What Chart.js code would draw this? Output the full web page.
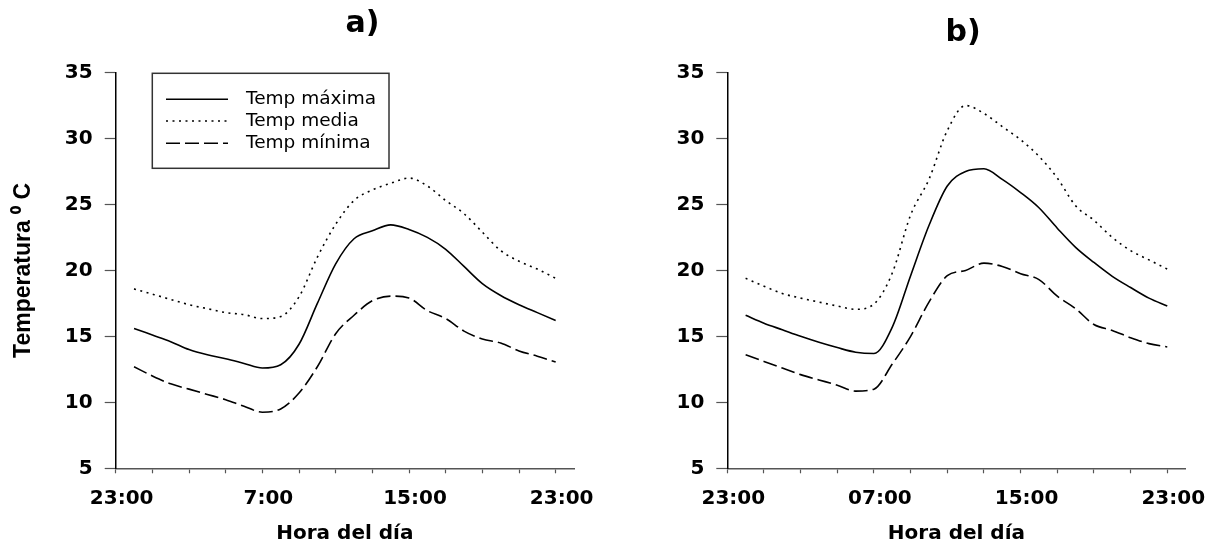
<!DOCTYPE html>
<html><head><meta charset="utf-8">
<script src="https://cdn.jsdelivr.net/npm/chart.js@4.4.1/dist/chart.umd.min.js"></script>
<style>
html,body{margin:0;padding:0;background:#fff;overflow:hidden;}
#wrap{position:relative;width:1217px;height:553px;background:#fff;}
canvas{position:absolute;top:0;}
#ca{left:0;} #cb{left:608px;}
</style></head><body>
<div id="wrap"><canvas id="ca" width="608" height="553"></canvas><canvas id="cb" width="609" height="553"></canvas></div>
<script>
// ---- data ----
const hours = [1,2,3,4,5,6,7,8,9,10,11,12,13,14,15,16,17,18,19,20,21,22,23,24];
const xTickValues = [0,2,4,6,8,10,12,14,16,18,20,22,24];
const majorTickValues = [0,8,16,24];
const tickLabelsA = ['23:00','7:00','15:00','23:00'];
const tickLabelsB = ['23:00','07:00','15:00','23:00'];
const yTickValues = [5,10,15,20,25,30,35];
const seriesNames = ['Temp máxima','Temp media','Temp mínima'];
const panelTitles = ['a)','b)'];
const xTitle = 'Hora del día';
const yTitle = 'Temperatura \u2070 C';

const maxA  = [15.6,15.1,14.6,14.0,13.6,13.3,12.95,12.6,12.85,14.4,17.5,20.5,22.4,23.0,23.45,23.1,22.5,21.6,20.3,19.0,18.1,17.4,16.8,16.2];
const meanA = [18.6,18.2,17.8,17.4,17.1,16.8,16.65,16.35,16.5,18.0,21.0,23.5,25.3,26.1,26.6,27.0,26.4,25.3,24.3,22.9,21.5,20.7,20.1,19.4];
const minA  = [12.7,12.0,11.4,11.0,10.6,10.2,9.7,9.25,9.5,10.7,12.7,15.2,16.6,17.7,18.05,17.9,16.95,16.35,15.4,14.8,14.5,13.9,13.5,13.05];

const maxB  = [16.6,16.0,15.5,15.0,14.55,14.15,13.8,13.7,15.7,19.6,23.4,26.4,27.5,27.7,26.9,25.9,24.75,23.2,21.75,20.6,19.55,18.7,17.9,17.3];
const meanB = [19.4,18.8,18.25,17.9,17.6,17.3,17.05,17.45,19.8,24.2,26.9,30.6,32.5,31.9,30.9,29.9,28.65,27.0,24.9,23.8,22.5,21.5,20.8,20.1];
const minB  = [13.6,13.1,12.6,12.1,11.7,11.3,10.85,11.0,12.9,15.0,17.6,19.6,20.0,20.55,20.3,19.75,19.3,18.05,17.1,15.9,15.45,14.9,14.45,14.2];

// ---- plugins ----
const boxLegend = {
  id: 'boxLegend',
  afterDraw(chart, args, o) {
    if (!o || !o.show) return;
    const ctx = chart.ctx;
    ctx.save();
    ctx.setLineDash([]);
    ctx.strokeStyle = '#333';
    ctx.lineWidth = 1.5;
    ctx.strokeRect(o.x, o.y, o.w, o.h);
    chart.data.datasets.forEach((ds, i) => {
      const y = o.rowY[i];
      ctx.beginPath();
      ctx.setLineDash(ds.borderDash || []);
      ctx.lineWidth = ds.borderWidth;
      ctx.strokeStyle = ds.borderColor;
      ctx.moveTo(o.lineX0, y);
      ctx.lineTo(o.lineX1, y);
      ctx.stroke();
      ctx.setLineDash([]);
      ctx.fillStyle = '#000';
      ctx.font = o.font;
      ctx.textBaseline = 'middle';
      ctx.textAlign = 'left';
      ctx.fillText(ds.label, o.textX, y);
    });
    ctx.restore();
  }
};
const panelTitle = {
  id: 'panelTitle',
  afterDraw(chart, args, o) {
    const ctx = chart.ctx;
    ctx.save();
    ctx.fillStyle = '#000';
    ctx.font = o.font;
    ctx.textAlign = 'center';
    ctx.textBaseline = 'middle';
    ctx.fillText(o.text, o.x, o.y);
    ctx.restore();
  }
};

const tickFont = {family: 'DejaVu Sans', weight: 'bold', size: 20};

function makeDatasets(vals) {
  const styles = [[], [2, 4.5], [14, 5]];
  return vals.map((v, i) => ({
    label: seriesNames[i],
    data: hours.map((h, k) => ({x: h, y: v[k]})),
    borderColor: '#000',
    borderWidth: 1.6,
    borderDash: styles[i],
    pointRadius: 0,
    fill: false,
    cubicInterpolationMode: 'monotone'
  }));
}

function makeChart(id, vals, labels, cfg) {
  return new Chart(document.getElementById(id), {
    type: 'line',
    data: {datasets: makeDatasets(vals)},
    plugins: [boxLegend, panelTitle],
    options: {
      responsive: false,
      animation: false,
      devicePixelRatio: 1,
      layout: {padding: {top: 72.5, right: cfg.padRight, bottom: 0, left: 0}},
      plugins: {
        legend: {display: false},
        tooltip: {enabled: false},
        title: {display: false},
        boxLegend: cfg.legend,
        panelTitle: cfg.title
      },
      scales: {
        x: {
          type: 'linear', min: 0, max: 25,
          afterBuildTicks: s => { s.ticks = xTickValues.map(v => ({value: v})); },
          afterFit: s => { s.height = 84.7; },
          ticks: {
            autoSkip: false, maxRotation: 0, minRotation: 0,
            callback: v => { const k = majorTickValues.indexOf(v); return k >= 0 ? labels[k] : ''; },
            font: tickFont, color: '#000', padding: 13, labelOffset: 6
          },
          grid: {drawOnChartArea: false, drawTicks: true, tickLength: 5, tickColor: '#555', tickWidth: 1.2},
          border: {display: true, color: '#555', width: 1.5},
          title: {display: true, text: xTitle, color: '#000',
                  font: {family: 'DejaVu Sans', weight: 'bold', size: 20}, padding: {top: 0, bottom: 7}}
        },
        y: {
          min: 5, max: 35,
          afterBuildTicks: s => { s.ticks = yTickValues.map(v => ({value: v})); },
          afterFit: s => { s.width = cfg.yWidth; },
          ticks: {font: tickFont, color: '#000', padding: 12},
          grid: {drawOnChartArea: false, drawTicks: true, tickLength: 11, tickColor: '#555', tickWidth: 1.2},
          border: {display: true, color: '#000', width: 1.5},
          title: {display: cfg.showYTitle, text: yTitle, color: '#000',
                  font: {family: 'Liberation Sans', weight: 'bold', size: 23}, padding: {top: 10, bottom: 0}}
        }
      }
    }
  });
}

makeChart('ca', [maxA, meanA, minA], tickLabelsA, {
  padRight: 34, yWidth: 115.7, showYTitle: true,
  title: {text: panelTitles[0], x: 362.5, y: 24, font: 'bold 30px "DejaVu Sans"'},
  legend: {show: true, x: 152.3, y: 73.3, w: 236.7, h: 95, rowY: [99.3, 121, 143.3],
           lineX0: 166, lineX1: 228, textX: 246, font: '18.5px "DejaVu Sans"'}
});
makeChart('cb', [maxB, meanB, minB], tickLabelsB, {
  padRight: 31.4, yWidth: 119.3, showYTitle: false,
  title: {text: panelTitles[1], x: 355, y: 33, font: 'bold 30px "DejaVu Sans"'},
  legend: {show: false}
});
</script>
</body></html>
